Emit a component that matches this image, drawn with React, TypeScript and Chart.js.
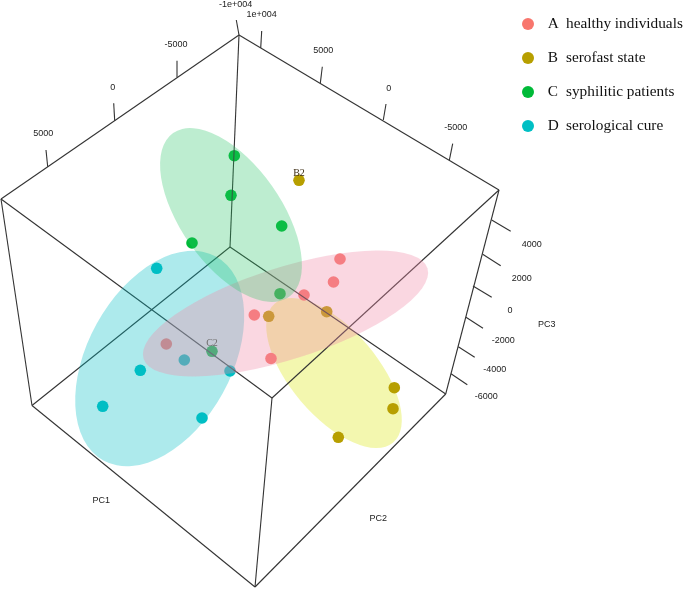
import React, { useEffect, useRef } from "react";
import { Chart, registerables } from "chart.js";

Chart.register(...registerables);

const W = 685;
const H = 589;

// Projected (picture-plane) values of the samples in each group
const pointsA = [[340, 259], [333.5, 282], [304, 295], [254.3, 315], [271, 358.5], [166.3, 344]];
const pointsB = [[299, 180.3], [326.7, 311.7], [268.7, 316.3], [394.3, 387.7], [393, 408.7], [338.3, 437.3]];
const pointsC = [[234.3, 155.7], [231, 195.3], [281.7, 226], [192, 243], [280, 293.7], [212, 351.3]];
const pointsD = [[156.7, 268.3], [184.3, 360], [140.3, 370.3], [102.7, 406.3], [202, 418], [230, 371]];

const groupNames = ["A", "B", "C", "D"];
const groupDescriptions = ["healthy individuals", "serofast state", "syphilitic patients", "serological cure"];
const groupColors = ["#F8766D", "#B79F00", "#00BA38", "#00BFC4"];
const legendDotX = [528, 528, 528, 528];
const legendDotY = [24, 58, 92, 126];

// Box of the 3D frame: [x1, y1, x2, y2]
const boxEdges = [
  [239, 35, 1, 199],
  [239, 35, 499, 190],
  [239, 35, 230, 247],
  [1, 199, 272, 398],
  [499, 190, 272, 398],
  [1, 199, 32, 405.5],
  [499, 190, 445.7, 394],
  [230, 247, 32, 405.5],
  [230, 247, 445.7, 394],
  [272, 398, 255, 587],
  [32, 405.5, 255, 587],
  [445.7, 394, 255, 587],
];

const tickMarks = [
  [239, 35, 236.3, 20],
  [177, 77.3, 177, 60.7],
  [114.7, 120.7, 113.7, 103.3],
  [47.7, 166.7, 46, 150],
  [260.7, 48, 261.7, 31],
  [320.3, 83.3, 322.3, 66.7],
  [383.3, 120, 386, 104],
  [449.3, 160.3, 452.7, 143.7],
  [491.7, 220, 510.7, 231.3],
  [482.7, 254.3, 500.7, 265.7],
  [473, 286, 491.7, 297.3],
  [466, 317.3, 483, 328.3],
  [458.3, 346.7, 474.7, 357.3],
  [451, 373.7, 467.3, 384.7],
];

const tickLabels = ["-1e+004", "-5000", "0", "5000", "1e+004", "5000", "0", "-5000", "4000", "2000", "0", "-2000", "-4000", "-6000", "PC1", "PC2", "PC3"];
const tickLabelX = [235.7, 176, 112.7, 43.3, 261.7, 323.3, 388.7, 455.7, 531.7, 521.7, 510, 503.3, 494.7, 486.3, 101.3, 378.3, 546.7];
const tickLabelY = [4.3, 44.3, 87.7, 133.7, 15, 50.3, 88.3, 128, 244.3, 278.3, 310.7, 341, 369.7, 397, 500.7, 518.7, 325];

const sampleLabels = ["B2", "C2"];
const sampleLabelX = [299, 212];
const sampleLabelY = [173, 343.5];

// Group ellipses, index: 0 A, 1 B, 2 C, 3 D: centre, semi-axes, rotation in degrees
const ellipseCx = [285.5, 334, 231, 159.7];
const ellipseCy = [313.5, 373, 215, 358.5];
const ellipseA = [149, 91.3, 100.4, 116.5];
const ellipseB = [46, 43.5, 50.2, 72];
const ellipseAngle = [-17.7, 49.6, 54.8, -61.1];
const ellipseColors = [
  "rgba(240,140,169,0.35)",
  "rgba(221,232,26,0.35)",
  "rgba(38,195,98,0.3)",
  "rgba(0,191,196,0.32)",
];
const ellipsesUnderPoints = [1];
const ellipsesOverPoints = [3, 0, 2];

const toXY = (p: number[]) => ({ x: p[0], y: p[1] });

const drawEllipses = (chart: any, which: number[]) => {
  const { ctx, scales } = chart;
  ctx.save();
  which.forEach((i) => {
    ctx.beginPath();
    ctx.ellipse(
      scales.x.getPixelForValue(ellipseCx[i]),
      scales.y.getPixelForValue(ellipseCy[i]),
      ellipseA[i],
      ellipseB[i],
      (ellipseAngle[i] * Math.PI) / 180,
      0,
      Math.PI * 2
    );
    ctx.fillStyle = ellipseColors[i];
    ctx.fill();
  });
  ctx.restore();
};

const overlayPlugin = {
  id: "overlay",
  beforeDatasetsDraw(chart: any) {
    drawEllipses(chart, ellipsesUnderPoints);
  },
  afterDatasetsDraw(chart: any) {
    const { ctx, scales } = chart;
    const px = (v: number) => scales.x.getPixelForValue(v);
    const py = (v: number) => scales.y.getPixelForValue(v);
    ctx.save();
    ctx.textAlign = "center";
    ctx.textBaseline = "middle";

    ctx.fillStyle = "#222";
    ctx.font = '9px "Liberation Sans"';
    tickLabels.forEach((t, i) => ctx.fillText(t, px(tickLabelX[i]), py(tickLabelY[i])));

    ctx.fillStyle = "#3a2a10";
    ctx.font = '10px "Liberation Serif"';
    sampleLabels.forEach((t, i) => ctx.fillText(t, px(sampleLabelX[i]), py(sampleLabelY[i])));

    drawEllipses(chart, ellipsesOverPoints);

    ctx.textAlign = "left";
    ctx.fillStyle = "#111";
    ctx.font = '15.3px "Liberation Serif"';
    groupNames.forEach((name, i) => {
      ctx.fillText(name, px(547.7), py(legendDotY[i]));
      ctx.fillText(groupDescriptions[i], px(566), py(legendDotY[i]));
    });
    ctx.restore();
  },
};

export default function App() {
  const ref = useRef<HTMLCanvasElement | null>(null);
  useEffect(() => {
    if (!ref.current) return;
    const lineSet = (seg: number[], width: number) => ({
      type: "line" as const,
      data: [{ x: seg[0], y: seg[1] }, { x: seg[2], y: seg[3] }],
      borderColor: "#333333",
      borderWidth: width,
      pointRadius: 0,
      fill: false,
      tension: 0,
    });
    const groups = [pointsA, pointsB, pointsC, pointsD];
    const chart = new Chart(ref.current, {
      type: "scatter",
      data: {
        datasets: [
          ...boxEdges.map((s) => lineSet(s, 1.1)),
          ...tickMarks.map((s) => lineSet(s, 1.1)),
          ...groups.map((g, i) => ({
            label: groupNames[i],
            data: g.map(toXY),
            backgroundColor: groupColors[i],
            borderWidth: 0,
            pointRadius: 5.8,
          })),
          {
            label: "legend",
            data: legendDotX.map((x, i) => ({ x, y: legendDotY[i] })),
            backgroundColor: groupColors,
            borderWidth: 0,
            pointRadius: 6,
          },
        ] as any,
      },
      options: {
        responsive: false,
        animation: false,
        layout: { padding: 0, autoPadding: false },
        plugins: { legend: { display: false }, tooltip: { enabled: false }, title: { display: false } },
        scales: {
          x: { type: "linear", min: 0, max: W, display: false },
          y: { type: "linear", min: 0, max: H, reverse: true, display: false },
        },
      },
      plugins: [overlayPlugin],
    });
    return () => chart.destroy();
  }, []);
  return (
    <canvas
      ref={ref}
      width={W}
      height={H}
      style={{ position: "absolute", left: 0, top: 0, width: W, height: H, background: "#fff" }}
    />
  );
}
